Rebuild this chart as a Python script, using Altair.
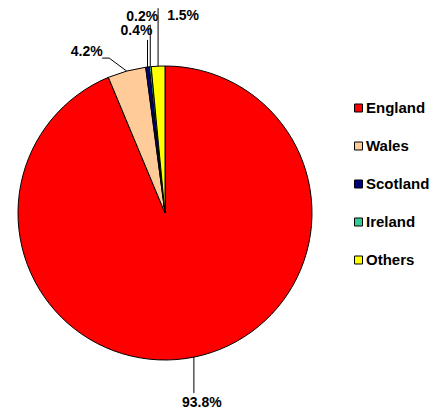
import math
import altair as alt
import pandas as pd

# ---- data ----
categories = ["England", "Wales", "Scotland", "Ireland", "Others"]
values = [93.8, 4.2, 0.4, 0.2, 1.5]
labels = ["93.8%", "4.2%", "0.4%", "0.2%", "1.5%"]
colors = ["#FF0000", "#FFCC99", "#000080", "#33CC99", "#FFFF00"]

# ---- layout / style ----
W, H = 424, 402
CX, CY, R = 157, 205, 147
# leader line bends (pixel offsets from the slice edge point) and label offsets from leader end
leader_offsets = {
    "England": [(0, 0), (0, 36)],
    "Wales": [(0, 0), (-17.5, -13), (-24.5, -13)],
    "Scotland": [(0, 0), (0, -27)],
    "Ireland": [(0, 0), (0, -42)],
    "Others": [(0, 0), (0, -58)],
}
label_offsets = {
    "England": (8, 10),
    "Wales": (-15.5, -6),
    "Scotland": (-11, -9),
    "Ireland": (-8, -8),
    "Others": (25, 8),
}

df = pd.DataFrame({"category": categories, "value": values, "label": labels,
                   "order": list(range(len(categories)))})

total = sum(values)
cum = 0.0
line_rows, text_rows = [], []
for cat, v, lab in zip(categories, values, labels):
    mid = (cum + v / 2) / total * 2 * math.pi
    cum += v
    ex = CX + R * math.sin(mid)
    ey = CY - R * math.cos(mid)
    pts = leader_offsets[cat]
    for i, (dx, dy) in enumerate(pts):
        line_rows.append({"category": cat, "i": i, "x": ex + dx, "y": ey + dy})
    lx, ly = ex + pts[-1][0], ey + pts[-1][1]
    ox, oy = label_offsets[cat]
    text_rows.append({"category": cat, "label": lab, "x": lx + ox, "y": ly + oy})

lines_df = pd.DataFrame(line_rows)
text_df = pd.DataFrame(text_rows)

xs = alt.Scale(domain=[0, W], range=[0, W])
ys = alt.Scale(domain=[0, H], range=[0, H])

pie = alt.Chart(df).mark_arc(outerRadius=R, stroke="black", strokeWidth=1).encode(
    theta=alt.Theta("value:Q", stack=True),
    order=alt.Order("order:Q"),
    color=alt.Color(
        "category:N",
        scale=alt.Scale(domain=categories, range=colors),
        sort=categories,
        legend=alt.Legend(
            title=None, orient="none", legendX=343, legendY=92.5,
            symbolType="square", symbolSize=64, symbolStrokeColor="black",
            symbolStrokeWidth=1, labelFont="Liberation Sans", labelFontSize=15,
            labelFontWeight="bold", labelColor="black", rowPadding=22,
            labelOffset=0, padding=0,
        ),
    ),
    x=alt.value(CX),
    y=alt.value(CY),
)

leaders = alt.Chart(lines_df).mark_line(color="black", strokeWidth=1).encode(
    x=alt.X("x:Q", scale=xs, axis=None),
    y=alt.Y("y:Q", scale=ys, axis=None),
    detail="category:N",
    order="i:Q",
)

texts = alt.Chart(text_df).mark_text(
    font="Liberation Sans", fontSize=14, fontWeight="bold", color="black",
    align="center", baseline="middle",
).encode(
    x=alt.X("x:Q", scale=xs, axis=None),
    y=alt.Y("y:Q", scale=ys, axis=None),
    text="label:N",
)

chart = alt.layer(pie, leaders, texts).properties(
    width=W, height=H, padding=0, autosize=alt.AutoSizeParams(type="none"),
    background="white",
).configure_view(stroke=None)

chart.save("out.html", embed_options={"renderer": "svg", "actions": False})
